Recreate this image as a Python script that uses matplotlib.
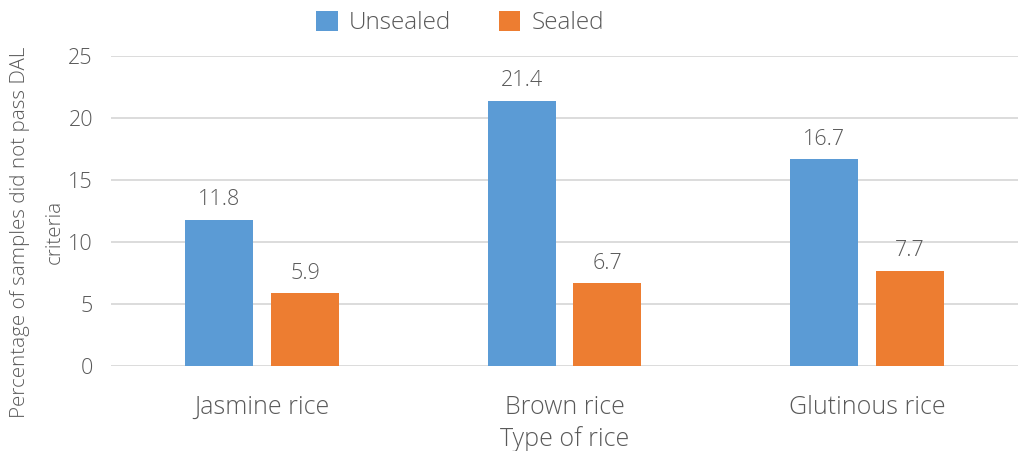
import matplotlib
matplotlib.use("Agg")
import matplotlib.pyplot as plt
import numpy as np

categories = ["Jasmine rice", "Brown rice", "Glutinous rice"]
unsealed = [11.8, 21.4, 16.7]
sealed = [5.9, 6.7, 7.7]
series_names = ["Unsealed", "Sealed"]
yticks = [0, 5, 10, 15, 20, 25]

plt.rcParams["font.family"] = ["Open Sans", "DejaVu Sans"]
plt.rcParams["font.weight"] = "light"
plt.rcParams["axes.labelweight"] = "light"
text_color = "#595959"
blue = "#5B9BD5"
orange = "#ED7D31"

fig = plt.figure(figsize=(10.18, 4.51), dpi=100)
ax = fig.add_axes([111 / 1018, 1 - 366 / 451, (1018 - 111) / 1018, (366 - 56) / 451])

x = np.arange(len(categories))
w = 0.225
off = 0.142
b1 = ax.bar(x - off, unsealed, w, color=blue, label=series_names[0], zorder=3)
b2 = ax.bar(x + off, sealed, w, color=orange, label=series_names[1], zorder=3)

for bars, vals in ((b1, unsealed), (b2, sealed)):
    for rect, v in zip(bars, vals):
        ax.text(rect.get_x() + rect.get_width() / 2, v + 1.15, f"{v:.1f}",
                ha="center", va="baseline", fontsize=15.5, color=text_color)

ax.set_xlim(-0.5, 2.5)
ax.set_ylim(0, 25)
ax.set_yticks(yticks)
ax.set_xticks(x)
ax.set_xticklabels(categories, fontsize=18, color=text_color)
ax.tick_params(axis="x", length=0, pad=21)
ax.tick_params(axis="y", length=0, pad=13, labelsize=15.5, labelcolor=text_color)
ax.yaxis.grid(True, color="#D9D9D9", linewidth=1.3, zorder=0)
for s in ax.spines.values():
    s.set_visible(False)

ax.set_xlabel("Type of rice", fontsize=18, color=text_color)
ax.xaxis.set_label_coords(0.5, -0.195)
ax.set_ylabel("Percentage of samples did not pass DAL\ncriteria", fontsize=14.8,
              color=text_color, linespacing=1.95)
ax.yaxis.set_label_coords(-0.051, 0.432)

leg = fig.legend(handles=[b1, b2], loc="center", bbox_to_anchor=(460 / 1018, 1 - 23 / 451),
                 ncol=2, frameon=False, fontsize=17.5, handlelength=0.9, handleheight=0.9,
                 columnspacing=1.95, handletextpad=0.45)
for t in leg.get_texts():
    t.set_color(text_color)

fig.savefig("out.png", dpi=100)
